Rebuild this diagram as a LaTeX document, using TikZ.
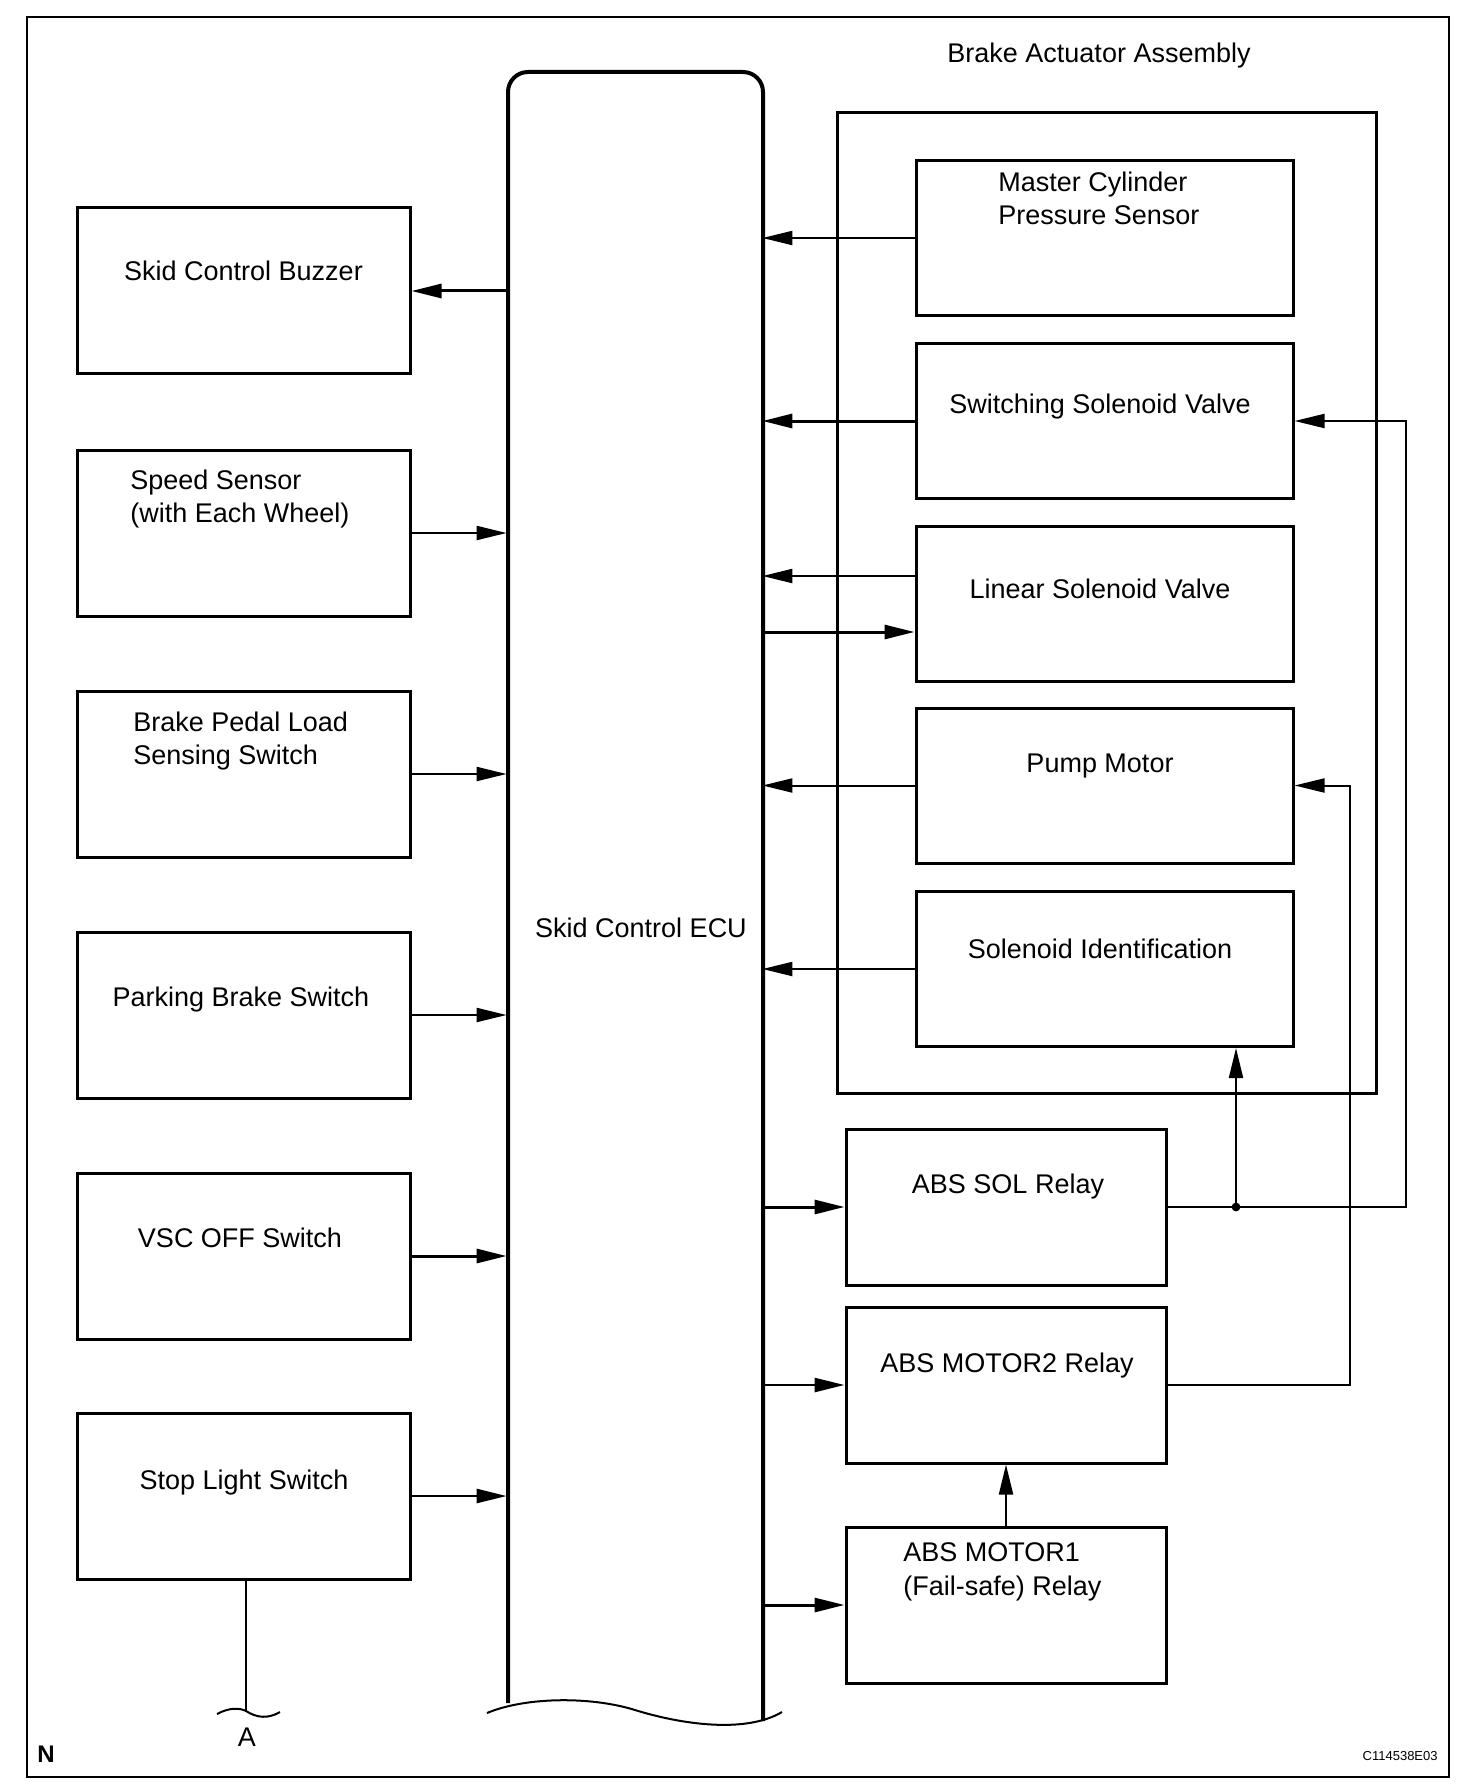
\documentclass[tikz,border=0pt]{standalone}
\usepackage{fontspec}
\setmainfont{Liberation Sans}
\usetikzlibrary{arrows.meta,calc}
\begin{document}
\begin{tikzpicture}[x=0.5pt,y=-0.5pt,
  font=\fontsize{13.5}{17}\selectfont,
  thinln/.style={line width=1pt},
  medln/.style={line width=1.25pt},
  thickln/.style={line width=1.5pt},
  arr/.style={-{Triangle[length=15pt,width=7pt]}},
  lbox/.style={draw,line width=1.5pt,minimum width=166.5pt,minimum height=83pt,inner sep=0pt},
  ibox/.style={draw,line width=1.5pt,minimum width=188.5pt,minimum height=77.5pt,inner sep=0pt},
  rbox/.style={draw,line width=1.5pt,minimum width=160pt,minimum height=78pt,inner sep=0pt},
  lbl/.style={anchor=base,inner sep=0pt},
  lbll/.style={anchor=base west,inner sep=0pt},
]
\fill[white] (0,0) rectangle (1472,1792);
\useasboundingbox (0,0) rectangle (1472,1792);
\draw[line width=1.4pt] (27,17) rectangle (1449,1777);

% left boxes
\node[lbox] (buz) at (243.5,291) {};
\node[lbox] (spd) at (243.5,533) {};
\node[lbox] (bpl) at (243.5,774) {};
\node[lbox] (pkb) at (243.5,1015) {};
\node[lbox] (vsc) at (243.5,1256) {};
\node[lbox] (stp) at (243.5,1496) {};
\node[lbl] (tbuz) at (243.5,281) {Skid Control Buzzer};
\node[lbll] (tspd1) at (130,489) {Speed Sensor};
\node[lbll] (tspd2) at (130,522) {(with Each Wheel)};
\node[lbll] (tbpl1) at (133,731) {Brake Pedal Load};
\node[lbll] (tbpl2) at (133,764) {Sensing Switch};
\node[lbl] (tpkb) at (241,1006) {Parking Brake Switch};
\node[lbl] (tvsc) at (240,1247) {VSC OFF Switch};
\node[lbl] (tstp) at (244,1489) {Stop Light Switch};

% ECU
\node[minimum width=127.5pt,minimum height=820pt,inner sep=0pt] (ecu) at (634.5,892) {};
\draw[line width=2pt,rounded corners=10pt] (508,1703) -- (508,72) -- (763,72) -- (763,1721);
\draw[thinln] (487,1713) .. controls (525,1697) and (590,1696) .. (635,1710) .. controls (680,1724) and (745,1734) .. (782,1712);
\node[lbl] (tecu) at (641,937) {Skid Control ECU};

% brake actuator assembly
\node[draw,line width=1.5pt,minimum width=269.5pt,minimum height=490pt,inner sep=0pt] (bab) at (1106.5,603) {};
\node[lbl] (tbab) at (1099,63) {Brake Actuator Assembly};
\node[ibox] (mcs) at (1104.5,238) {};
\node[ibox] (ssv) at (1104.5,421) {};
\node[ibox] (lsv) at (1104.5,603.5) {};
\node[ibox] (pmp) at (1104.5,785.5) {};
\node[ibox] (sid) at (1104.5,969) {};
\node[lbll] (tmcs1) at (998,192) {Master Cylinder};
\node[lbll] (tmcs2) at (998,225) {Pressure Sensor};
\node[lbl] (tssv) at (1100,413) {Switching Solenoid Valve};
\node[lbl] (tlsv) at (1100,598) {Linear Solenoid Valve};
\node[lbl] (tpmp) at (1100,772) {Pump Motor};
\node[lbl] (tsid) at (1100,958) {Solenoid Identification};

% relays
\node[rbox] (sol) at (1006,1207) {};
\node[rbox] (mtwo) at (1006,1385) {};
\node[rbox] (mone) at (1006,1605) {};
\node[lbl] (tsol) at (1008,1193) {ABS SOL Relay};
\node[lbl] (tmtwo) at (1007,1372) {ABS MOTOR2 Relay};
\node[lbll] (tmone1) at (903,1561) {ABS MOTOR1};
\node[lbll] (tmone2) at (903,1595) {(Fail-safe) Relay};

% left connectors
\draw[thickln,arr] (ecu.west |- buz.east) -- (buz.east);
\draw[thinln,arr] (spd.east) -- (spd.east -| ecu.west);
\draw[thinln,arr] (bpl.east) -- (bpl.east -| ecu.west);
\draw[thinln,arr] (pkb.east) -- (pkb.east -| ecu.west);
\draw[thickln,arr] (vsc.east) -- (vsc.east -| ecu.west);
\draw[medln,arr] (stp.east) -- (stp.east -| ecu.west);

% right connectors
\draw[thinln,arr] (mcs.west) -- (mcs.west -| ecu.east);
\draw[thickln,arr] (ssv.west) -- (ssv.west -| ecu.east);
\coordinate (lout) at ($(lsv.west)+(0,-27.5)$);
\coordinate (lin) at ($(lsv.west)+(0,28.5)$);
\draw[thinln,arr] (lout) -- (lout -| ecu.east);
\draw[thickln,arr] (lin -| ecu.east) -- (lin);
\draw[thinln,arr] (pmp.west) -- (pmp.west -| ecu.east);
\draw[thinln,arr] (sid.west) -- (sid.west -| ecu.east);
\draw[thickln,arr] (ecu.east |- sol.west) -- (sol.west);
\draw[medln,arr] (ecu.east |- mtwo.west) -- (mtwo.west);
\draw[thickln,arr] (ecu.east |- mone.west) -- (mone.west);

% feed lines
\coordinate (jn) at (1236,1207);
\draw[thinln,arr] (sol.east) -| ($(ssv.east)+(111,0)$) -- (ssv.east);
\draw[thinln,arr] (jn) -- (jn |- sid.south);
\fill (jn) circle[radius=2.2pt];
\draw[thinln,arr] (mtwo.east) -| ($(pmp.east)+(55,0)$) -- (pmp.east);
\draw[thinln,arr] (mone.north) -- (mtwo.south);

% stop light lead
\coordinate (aw) at (246,1711);
\draw[thinln] (stp.south -| aw) -- (aw);
\draw[thinln] (217,1714) .. controls (230,1707) and (240,1708) .. (aw) .. controls (257,1718) and (268,1719) .. (280,1712);
\node[lbl] (ta) at (247,1746) {A};
\node[lbll,font=\fontsize{12}{14}\selectfont\bfseries] (tn) at (37,1762) {N};
\node[anchor=base east,inner sep=0pt,font=\fontsize{6.5}{8}\selectfont] (code) at (1438,1760) {C114538E03};
\end{tikzpicture}
\end{document}
